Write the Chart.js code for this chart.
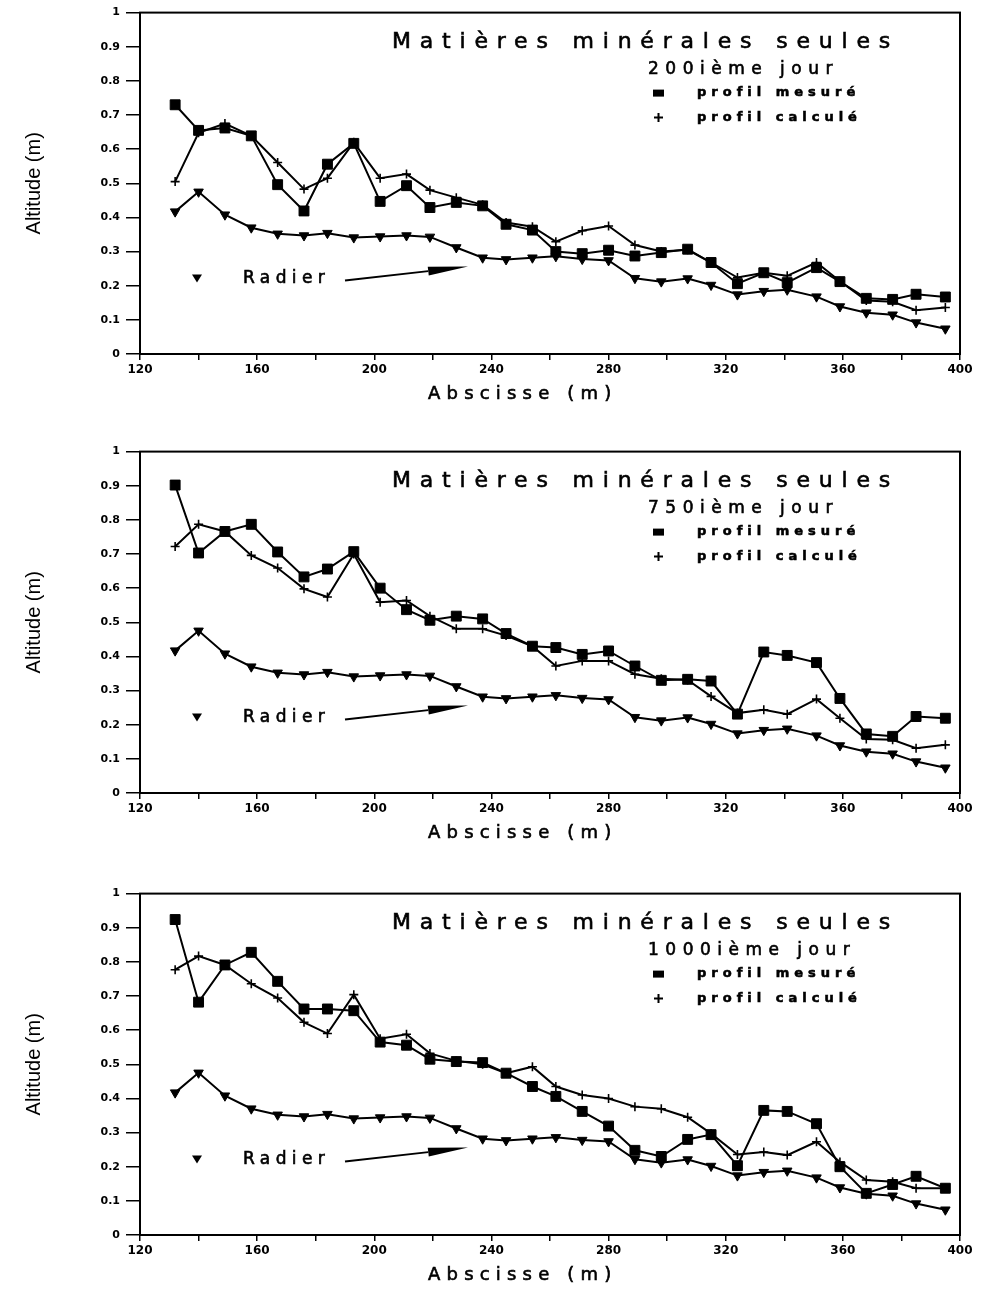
<!DOCTYPE html>
<html lang="fr">
<head>
<meta charset="utf-8">
<title>Matières minérales seules</title>
<script src="https://cdn.jsdelivr.net/npm/chart.js@4.4.1/dist/chart.umd.min.js"></script>
<style>
  html, body { margin: 0; padding: 0; background: #fff; overflow: hidden; }
  #page { position: relative; width: 985px; height: 1289px; }
  .graph { position: absolute; left: 0; width: 985px; height: 408px; }
</style>
</head>
<body>
<div id="page">
  <div class="graph" style="top:0px"><canvas id="chart200" width="985" height="408"></canvas></div>
  <div class="graph" style="top:439px"><canvas id="chart750" width="985" height="408"></canvas></div>
  <div class="graph" style="top:881px"><canvas id="chart1000" width="985" height="408"></canvas></div>
</div>
<script>
'use strict';

// abscisses des profils (m)
let abscisse = [132, 140, 149, 158, 167, 176, 184, 193, 202, 211, 219, 228, 237, 245, 254, 262, 271, 280, 289, 298, 307, 315, 324, 333, 341, 351, 359, 368, 377, 385, 395];

// fond du canal, le meme sur les trois graphiques
let radier = [0.417, 0.475, 0.408, 0.370, 0.352, 0.347, 0.354, 0.341, 0.344, 0.347, 0.343, 0.312, 0.282, 0.277, 0.282, 0.286, 0.278, 0.274, 0.222, 0.212, 0.221, 0.202, 0.174, 0.184, 0.188, 0.168, 0.139, 0.121, 0.115, 0.092, 0.074];

let mesure200 = [0.730, 0.655, 0.662, 0.639, 0.496, 0.419, 0.556, 0.617, 0.447, 0.493, 0.429, 0.444, 0.434, 0.380, 0.363, 0.300, 0.294, 0.304, 0.287, 0.297, 0.307, 0.268, 0.206, 0.238, 0.209, 0.253, 0.212, 0.163, 0.160, 0.175, 0.167];
let calcul200 = [0.505, 0.648, 0.675, 0.639, 0.561, 0.483, 0.515, 0.620, 0.515, 0.527, 0.480, 0.458, 0.437, 0.385, 0.373, 0.329, 0.361, 0.375, 0.319, 0.300, 0.305, 0.268, 0.224, 0.238, 0.229, 0.268, 0.213, 0.157, 0.153, 0.128, 0.136];

let mesure750 = [0.902, 0.703, 0.766, 0.787, 0.706, 0.633, 0.656, 0.707, 0.600, 0.537, 0.506, 0.518, 0.510, 0.467, 0.430, 0.426, 0.406, 0.416, 0.372, 0.330, 0.333, 0.328, 0.231, 0.413, 0.403, 0.382, 0.277, 0.173, 0.166, 0.224, 0.219];
let calcul750 = [0.722, 0.787, 0.766, 0.696, 0.659, 0.598, 0.574, 0.700, 0.559, 0.564, 0.518, 0.481, 0.481, 0.461, 0.430, 0.372, 0.387, 0.387, 0.348, 0.335, 0.331, 0.283, 0.234, 0.244, 0.231, 0.275, 0.219, 0.158, 0.156, 0.131, 0.141];

let mesure1000 = [0.924, 0.682, 0.791, 0.828, 0.743, 0.662, 0.662, 0.657, 0.565, 0.556, 0.515, 0.508, 0.505, 0.474, 0.435, 0.406, 0.362, 0.319, 0.248, 0.230, 0.280, 0.294, 0.203, 0.365, 0.362, 0.326, 0.200, 0.122, 0.148, 0.172, 0.137];
let calcul1000 = [0.777, 0.817, 0.791, 0.736, 0.694, 0.623, 0.590, 0.704, 0.575, 0.588, 0.532, 0.510, 0.500, 0.474, 0.493, 0.435, 0.410, 0.400, 0.376, 0.370, 0.345, 0.297, 0.236, 0.243, 0.234, 0.273, 0.214, 0.161, 0.156, 0.137, 0.137];

let xLabels = [120, 160, 200, 240, 280, 320, 360, 400];
let yLabels = ['0', '0.1', '0.2', '0.3', '0.4', '0.5', '0.6', '0.7', '0.8', '0.9', '1'];

let titre = 'Matières minérales seules';
let labelMesure = 'profil mesuré';
let labelCalcul = 'profil calculé';
let labelRadier = 'Radier';
let xTitle = 'Abscisse (m)';
let yTitle = 'Altitude (m)';

let graphs = [
    { id: 'chart200', jour: '200ième jour', mesure: mesure200, calcul: calcul200 },
    { id: 'chart750', jour: '750ième jour', mesure: mesure750, calcul: calcul750 },
    { id: 'chart1000', jour: '1000ième jour', mesure: mesure1000, calcul: calcul1000 }
];

let textFont = '"DejaVu Sans", "Liberation Sans", sans-serif';

function toPoints(values) {
    let pts = [];
    for (let i = 0; i < values.length; i++) {
        pts.push({ x: abscisse[i], y: values[i] });
    }
    return pts;
}

// texte espace comme sur le traceur, un peu epaissi
function spacedText(ctx, text, x, y, spacing) {
    ctx.lineWidth = 0.6;
    if ('letterSpacing' in ctx) {
        ctx.letterSpacing = spacing + 'px';
        ctx.fillText(text, x, y);
        ctx.strokeText(text, x, y);
        ctx.letterSpacing = '0px';
        return;
    }
    for (let i = 0; i < text.length; i++) {
        ctx.fillText(text[i], x, y);
        ctx.strokeText(text[i], x, y);
        x += ctx.measureText(text[i]).width + spacing;
    }
}

let plotNotes = {
    id: 'plotNotes',
    afterDraw(chart, args, opts) {
        let ctx = chart.ctx;
        let a = chart.chartArea;
        ctx.save();

        // cadre
        ctx.strokeStyle = '#000';
        ctx.lineWidth = 2;
        ctx.strokeRect(a.left, a.top, a.right - a.left, a.bottom - a.top);

        ctx.fillStyle = '#000';
        ctx.textAlign = 'left';
        ctx.textBaseline = 'middle';

        ctx.font = '22px ' + textFont;
        spacedText(ctx, titre, a.left + 252, a.top + 30, 8.8);

        ctx.font = '17px ' + textFont;
        spacedText(ctx, opts.jour, a.left + 508, a.top + 57, 6.5);

        // legende
        ctx.fillRect(a.left + 513, a.top + 77, 11, 7);
        ctx.lineWidth = 2;
        ctx.beginPath();
        ctx.moveTo(a.left + 514, a.top + 105);
        ctx.lineTo(a.left + 523, a.top + 105);
        ctx.moveTo(a.left + 518.5, a.top + 100.5);
        ctx.lineTo(a.left + 518.5, a.top + 109.5);
        ctx.stroke();
        ctx.font = 'bold 13px ' + textFont;
        spacedText(ctx, labelMesure, a.left + 557, a.top + 80, 5);
        spacedText(ctx, labelCalcul, a.left + 557, a.top + 105, 5);

        // radier + fleche
        let ty = a.top + 266;
        ctx.beginPath();
        ctx.moveTo(a.left + 52, ty - 4);
        ctx.lineTo(a.left + 62, ty - 4);
        ctx.lineTo(a.left + 57, ty + 4);
        ctx.closePath();
        ctx.fill();
        ctx.font = '17px ' + textFont;
        spacedText(ctx, labelRadier, a.left + 103, ty, 5.4);

        let x0 = a.left + 205, y0 = a.top + 268;
        let x1 = a.left + 328, y1 = a.top + 254;
        let len = Math.hypot(x1 - x0, y1 - y0);
        let ux = (x1 - x0) / len, uy = (y1 - y0) / len;
        let bx = x1 - ux * 40, by = y1 - uy * 40;
        ctx.lineWidth = 2;
        ctx.beginPath();
        ctx.moveTo(x0, y0);
        ctx.lineTo(bx, by);
        ctx.stroke();
        ctx.beginPath();
        ctx.moveTo(x1, y1);
        ctx.lineTo(bx - uy * 4.5, by + ux * 4.5);
        ctx.lineTo(bx + uy * 4.5, by - ux * 4.5);
        ctx.closePath();
        ctx.fill();

        // titre de l'axe x
        ctx.font = '18px ' + textFont;
        spacedText(ctx, xTitle, a.left + 288, a.bottom + 40, 6.2);

        ctx.restore();
    }
};

function makeChart(g) {
    let ctx = document.getElementById(g.id).getContext('2d');
    return new Chart(ctx, {
        type: 'line',
        data: {
            datasets: [{
                label: labelRadier,
                data: toPoints(radier),
                borderColor: '#000',
                borderWidth: 2,
                pointStyle: 'triangle',
                rotation: 180,
                pointRadius: 5.5,
                pointBackgroundColor: '#000',
                pointBorderColor: '#000',
                pointBorderWidth: 1
            }, {
                label: labelMesure,
                data: toPoints(g.mesure),
                borderColor: '#000',
                borderWidth: 2,
                pointStyle: 'rect',
                pointRadius: 7,
                pointBackgroundColor: '#000',
                pointBorderColor: '#000',
                pointBorderWidth: 1
            }, {
                label: labelCalcul,
                data: toPoints(g.calcul),
                borderColor: '#000',
                borderWidth: 2,
                pointStyle: 'cross',
                pointRadius: 4.5,
                pointBorderColor: '#000',
                pointBorderWidth: 1.6
            }]
        },
        options: {
            responsive: false,
            animation: false,
            layout: { padding: { left: 0, right: 25, top: 12, bottom: 0 } },
            plugins: {
                legend: { display: false },
                tooltip: { enabled: false },
                plotNotes: { jour: g.jour }
            },
            scales: {
                x: {
                    type: 'linear',
                    min: 120,
                    max: 400,
                    afterFit: function (scale) { scale.height = 54; },
                    border: { display: true, color: '#000', width: 2 },
                    grid: { drawOnChartArea: false, drawTicks: true, tickLength: 6, color: '#000', lineWidth: 1.5 },
                    ticks: {
                        stepSize: 20,
                        autoSkip: false,
                        maxRotation: 0,
                        padding: 3,
                        color: '#000',
                        font: { family: textFont, size: 12, weight: 'bold' },
                        callback: function (v) { return xLabels.includes(v) ? String(v) : ''; }
                    }
                },
                y: {
                    min: 0,
                    max: 1,
                    afterFit: function (scale) { scale.width = 140; },
                    border: { display: true, color: '#000', width: 2 },
                    grid: { drawOnChartArea: false, drawTicks: true, tickLength: 14, color: '#000', lineWidth: 1.5 },
                    title: {
                        display: true,
                        text: yTitle,
                        color: '#000',
                        padding: { top: 22, bottom: 0 },
                        font: { family: '"Liberation Sans Narrow", "Liberation Sans", sans-serif', size: 20 }
                    },
                    ticks: {
                        stepSize: 0.1,
                        padding: 6,
                        color: '#000',
                        font: { family: textFont, size: 11, weight: 'bold' },
                        callback: function (v, i) { return yLabels[i]; }
                    }
                }
            }
        },
        plugins: [plotNotes]
    });
}

for (let i = 0; i < graphs.length; i++) {
    makeChart(graphs[i]);
}
</script>
</body>
</html>
